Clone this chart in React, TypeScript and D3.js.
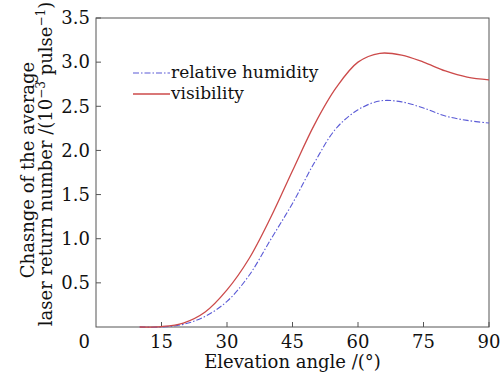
import React from "react";
import * as d3 from "d3";

const angles = [10, 15, 20, 25, 30, 35, 40, 45, 50, 55, 60, 65, 70, 75, 80, 85, 90];
const visibility = [0, 0.005, 0.045, 0.17, 0.42, 0.77, 1.24, 1.77, 2.29, 2.71, 3.0, 3.1, 3.08, 3.0, 2.9, 2.83, 2.8];
const humidity = [0, 0.0, 0.03, 0.12, 0.29, 0.58, 0.99, 1.4, 1.86, 2.25, 2.46, 2.56, 2.55, 2.48, 2.39, 2.34, 2.31];
const xTicks = [15, 30, 45, 60, 75, 90];
const yTicks = [0.5, 1.0, 1.5, 2.0, 2.5, 3.0, 3.5];
const seriesNames = ["relative humidity", "visibility"];

const W = 504;
const H = 379;
const L = 96, R = 489, T = 18, B = 327;
const FONT = "'DejaVu Serif', 'Liberation Serif', serif";

export default function App() {
  const x = d3.scaleLinear().domain([0, 90]).range([L, R]);
  const y = d3.scaleLinear().domain([0, 3.5]).range([B, T]);
  const line = d3
    .line<number>()
    .x((_, i) => x(angles[i]))
    .y((d) => y(d))
    .curve(d3.curveCatmullRom.alpha(0.5));
  const axisColor = "#555";
  const red = "#cc4a4a";
  const blue = "#5a5ad6";
  return (
    <svg width={W} height={H} style={{ position: "absolute", left: 0, top: 0, background: "#fff" }}>
      <rect x={L} y={T} width={R - L} height={B - T} fill="none" stroke={axisColor} strokeWidth={1} />
      {xTicks.map((t) => (
        <g key={"x" + t}>
          <line x1={x(t)} x2={x(t)} y1={B} y2={B - 5} stroke={axisColor} />
          <text x={x(t)} y={348} textAnchor="middle" fontFamily={FONT} fontSize={18} fill="#111">
            {t}
          </text>
        </g>
      ))}
      <text x={90} y={348} textAnchor="end" fontFamily={FONT} fontSize={18} fill="#111">0</text>
      {yTicks.map((t) => (
        <g key={"y" + t}>
          <line x1={L} x2={L + 5} y1={y(t)} y2={y(t)} stroke={axisColor} />
          <text x={90} y={y(t)} dy="0.35em" textAnchor="end" fontFamily={FONT} fontSize={18} fill="#111">
            {t.toFixed(1)}
          </text>
        </g>
      ))}
      <path d={line(humidity) || ""} fill="none" stroke={blue} strokeWidth={1.1} strokeDasharray="6,2,1.5,2" />
      <path d={line(visibility) || ""} fill="none" stroke={red} strokeWidth={1.3} />
      <line x1={133} x2={170} y1={73} y2={73} stroke={blue} strokeWidth={1.1} strokeDasharray="6,2,1.5,2" />
      <text x={171} y={78} fontFamily={FONT} fontSize={17} fill="#111">{seriesNames[0]}</text>
      <line x1={133} x2={170} y1={94} y2={94} stroke={red} strokeWidth={1.3} />
      <text x={171} y={99} fontFamily={FONT} fontSize={17} fill="#111">{seriesNames[1]}</text>
      <text x={(L + R) / 2} y={368} textAnchor="middle" fontFamily={FONT} fontSize={18} fill="#111">
        Elevation angle /(°)
      </text>
      <g transform={`translate(34,170) rotate(-90)`}>
        <text x={0} y={0} textAnchor="middle" fontFamily={FONT} fontSize={18} fill="#111">
          Chasnge of the average
        </text>
      </g>
      <g transform={`translate(52,164) rotate(-90)`}>
        <text x={0} y={0} textAnchor="middle" fontFamily={FONT} fontSize={18} fill="#111">
          laser return number /(10
          <tspan dy={-7} fontSize={12}>−3</tspan>
          <tspan dy={7}> pulse</tspan>
          <tspan dy={-7} fontSize={12}>−1</tspan>
          <tspan dy={7}>)</tspan>
        </text>
      </g>
    </svg>
  );
}
